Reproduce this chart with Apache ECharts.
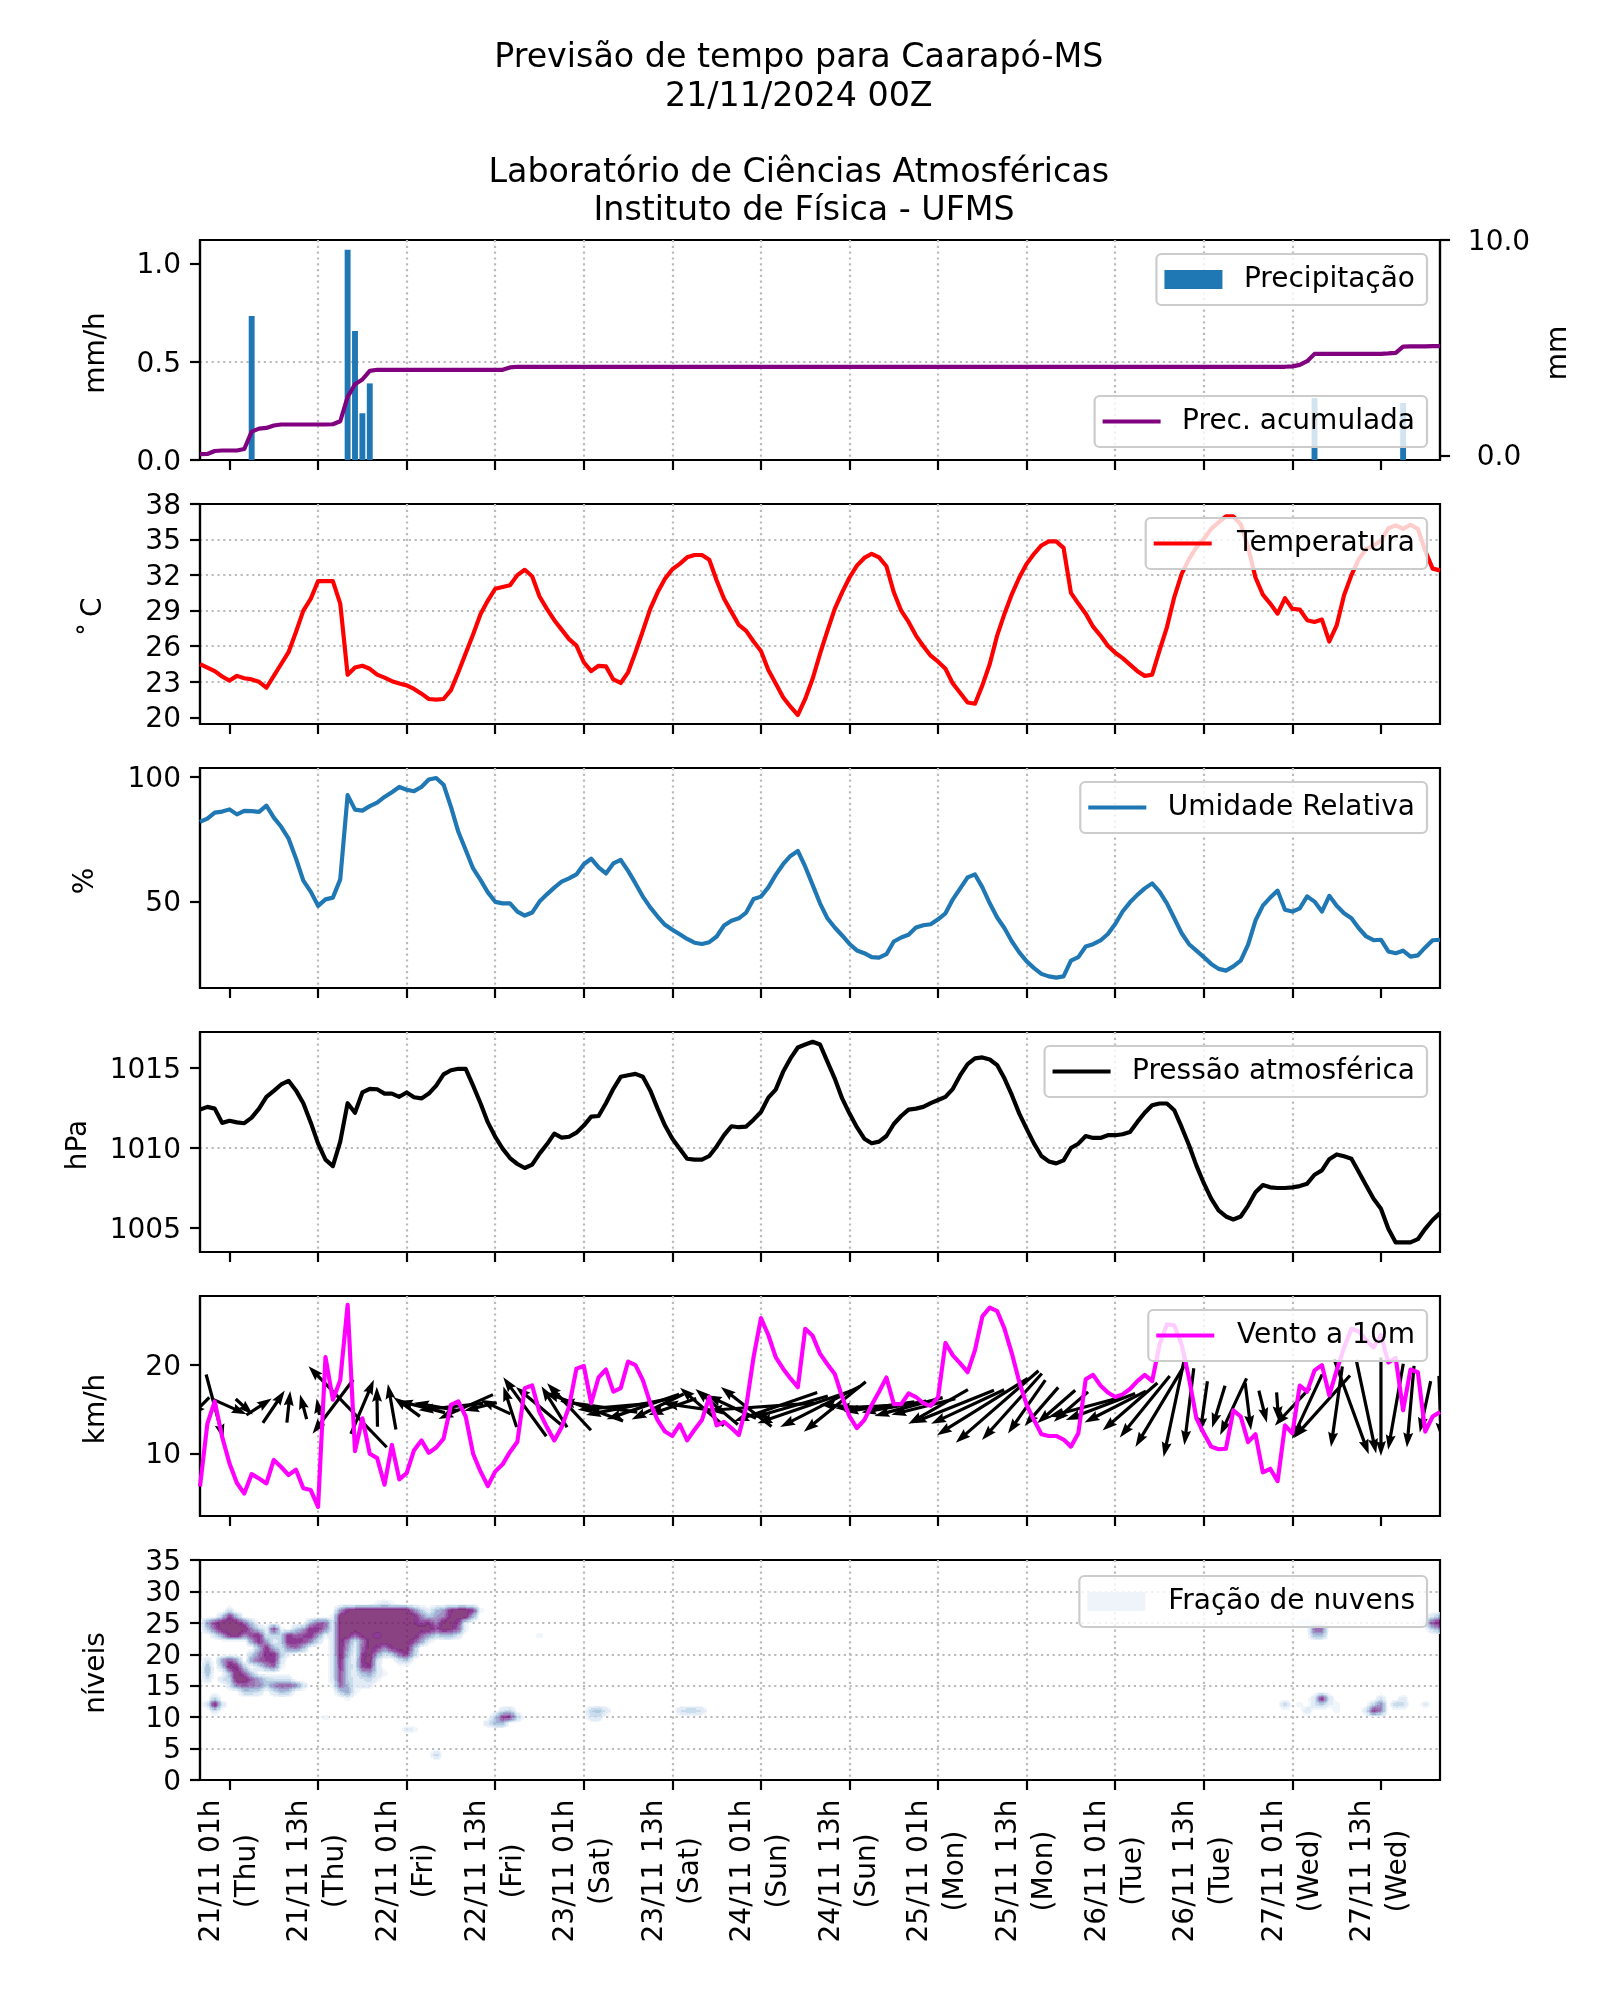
<!DOCTYPE html>
<html><head><meta charset="utf-8">
<style>html,body{margin:0;padding:0;background:#fff}#c{width:1600px;height:2000px}</style>
<script src="https://cdn.jsdelivr.net/npm/echarts@6/dist/echarts.min.js"></script>
</head><body><div id="c"></div>
<script>
const titleText = "Previsão de tempo para Caarapó-MS\n21/11/2024 00Z\n\nLaboratório de Ciências Atmosféricas\n Instituto de Física - UFMS";
const tickHours = [4,16,28,40,52,64,76,88,100,112,124,136,148,160];
const tickLabels = ["21/11 01h\n(Thu)","21/11 13h\n(Thu)","22/11 01h\n(Fri)","22/11 13h\n(Fri)","23/11 01h\n(Sat)","23/11 13h\n(Sat)","24/11 01h\n(Sun)","24/11 13h\n(Sun)","25/11 01h\n(Mon)","25/11 13h\n(Mon)","26/11 01h\n(Tue)","26/11 13h\n(Tue)","27/11 01h\n(Wed)","27/11 13h\n(Wed)"];

const precipHours = [7,20,21,22,23,151,163];
const precipRate = [0.733,1.07,0.657,0.238,0.39,0.316,0.29];
const precipAccum = [0.05,0.06,0.2,0.22,0.22,0.22,0.29,1.1,1.24,1.27,1.38,1.43,1.43,1.43,1.43,1.43,1.43,1.43,1.44,1.58,2.71,3.3,3.52,3.92,
3.97,3.97,3.97,3.97,3.97,3.97,3.97,3.97,3.97,3.97,3.97,3.97,3.97,3.97,3.97,3.97,3.97,3.97,4.08,
4.11,4.11,4.11,4.11,4.11,4.11,4.11,4.11,4.11,4.11,4.11,4.11,4.11,4.11,4.11,
4.11,4.11,4.11,4.11,4.11,4.11,4.11,4.11,4.11,4.11,4.11,4.11,4.11,4.11,4.11,
4.11,4.11,4.11,4.11,4.11,4.11,4.11,4.11,4.11,4.11,4.11,4.11,4.11,4.11,4.11,
4.11,4.11,4.11,4.11,4.11,4.11,4.11,4.11,4.11,4.11,4.11,4.11,4.11,4.11,4.11,
4.11,4.11,4.11,4.11,4.11,4.11,4.11,4.11,4.11,4.11,4.11,4.11,4.11,4.11,4.11,
4.11,4.11,4.11,4.11,4.11,4.11,4.11,4.11,4.11,4.11,4.11,4.11,4.11,4.11,4.11,
4.11,4.11,4.11,4.11,4.11,4.11,4.11,4.11,4.11,4.11,4.11,4.11,4.11,4.11,4.11,
4.13,4.2,4.37,4.71,4.71,4.71,4.71,4.71,4.71,4.71,4.71,4.71,4.71,4.73,4.76,5.05,5.06,5.06,5.06,5.07,5.07];

const temperature = [24.5,24.2,23.9,23.45,23.1,23.5,23.3,23.2,23.0,22.5,23.5,24.5,25.5,27.2,29.0,30,31.5,31.5,31.5,29.6,23.6,24.2,24.35,24.1,23.6,23.35,23.05,22.85,22.7,22.4,22.0,21.55,21.5,21.55,22.3,23.8,25.4,27,28.7,29.85,30.85,31,31.15,32,32.45,31.9,30.2,29.15,28.2,27.4,26.6,26.05,24.65,23.9,24.35,24.3,23.2,22.9,23.8,25.5,27.3,29.15,30.55,31.7,32.5,32.95,33.5,33.7,33.7,33.3,31.55,30,28.9,27.8,27.3,26.4,25.6,24,22.85,21.7,20.9,20.2,21.55,23.25,25.35,27.3,29.15,30.55,31.8,32.8,33.45,33.8,33.5,32.75,30.55,29,28.05,26.9,26,25.2,24.7,24.1,22.85,22.05,21.25,21.15,22.7,24.5,26.9,28.75,30.4,31.8,32.95,33.8,34.5,34.85,34.85,34.3,30.5,29.6,28.75,27.65,26.9,26.05,25.45,25,24.45,23.9,23.5,23.6,25.65,27.6,30.15,32.1,33.35,34.35,35.05,35.9,36.45,36.95,36.95,36.3,34.35,31.8,30.35,29.6,28.75,30.05,29.15,29.1,28.2,28.05,28.25,26.4,27.75,30.3,32,33.35,34.2,34.5,34.9,35.95,36.2,35.9,36.25,35.9,34.05,32.55,32.4];

const humidity = [82,83.3,85.7,86.1,87,85,86.4,86.3,86,88.5,83.7,80,75.3,67.3,58.4,54,48.3,50.9,51.6,58.9,92.7,86.9,86.5,88.3,89.7,92,93.9,96,94.9,94.3,96,99,99.6,96.9,88,78,70.7,63.3,58.7,53.7,49.9,49.3,49.3,46,44.4,45.6,50,52.9,55.6,58,59.3,60.9,65,67.2,63.7,61.3,65.3,66.7,62.3,57.3,52,47.7,44,40.7,38.7,36.9,35,33.5,33,33.7,36,40.4,42.3,43.3,45.6,51,52,55.7,60.7,65,68.3,70.3,64,56.7,49.3,43.3,39.6,36.4,33,30.4,29.3,27.7,27.5,28.9,34,35.6,36.7,39.6,40.5,40.9,42.9,45.3,50.9,55.3,59.7,60.9,55.7,49.3,43.6,39.3,34,29.6,26,23.3,21,20,19.5,20,26.3,27.7,32,32.9,34.4,37,41,46,49.7,52.7,55.3,57.3,54,49.3,43.3,37.3,32.9,30.3,27.7,25,23,22.3,24,26.3,32.7,42.4,48.4,51.6,54.4,46.7,46,47.3,52.1,50,46,52.3,48.3,45.3,43.3,39.3,36,34.5,34.7,30,29.3,30.3,27.9,28.4,31.6,34.5,34.7];

const pressure = [1012.4,1012.57,1012.46,1011.57,1011.7,1011.6,1011.55,1011.9,1012.46,1013.2,1013.57,1013.97,1014.2,1013.6,1012.8,1011.6,1010.27,1009.27,1008.87,1010.4,1012.8,1012.2,1013.47,1013.7,1013.67,1013.4,1013.4,1013.2,1013.47,1013.17,1013.1,1013.4,1013.9,1014.6,1014.86,1014.95,1014.95,1013.9,1012.8,1011.6,1010.7,1009.96,1009.37,1009,1008.75,1008.96,1009.65,1010.23,1010.9,1010.65,1010.7,1010.96,1011.4,1011.96,1012,1012.8,1013.7,1014.45,1014.55,1014.63,1014.45,1013.6,1012.46,1011.4,1010.58,1009.96,1009.33,1009.27,1009.27,1009.5,1010.1,1010.8,1011.36,1011.3,1011.34,1011.77,1012.25,1013.15,1013.65,1014.76,1015.6,1016.28,1016.47,1016.64,1016.47,1015.4,1014.34,1013.1,1012.15,1011.3,1010.58,1010.3,1010.4,1010.75,1011.5,1012,1012.4,1012.46,1012.57,1012.8,1013,1013.2,1013.7,1014.55,1015.24,1015.6,1015.66,1015.53,1015.18,1014.34,1013.3,1012.15,1011.2,1010.27,1009.5,1009.16,1009.04,1009.23,1010,1010.27,1010.75,1010.63,1010.63,1010.8,1010.8,1010.86,1011,1011.63,1012.2,1012.67,1012.78,1012.78,1012.36,1011.3,1010.17,1008.9,1007.8,1006.83,1006.1,1005.72,1005.53,1005.72,1006.4,1007.24,1007.68,1007.54,1007.5,1007.5,1007.54,1007.62,1007.77,1008.33,1008.6,1009.3,1009.6,1009.48,1009.33,1008.5,1007.66,1006.83,1006.2,1004.95,1004.1,1004.1,1004.1,1004.3,1004.95,1005.5,1005.93];

const windSpeed = [6.3,13.4,15.9,11.9,8.9,6.7,5.5,7.7,7.2,6.65,9.3,8.5,7.6,8.2,6.1,5.9,4,20.9,16.1,18.3,26.8,10.3,14,10,9.5,6.5,11,7.1,7.8,10.4,11.5,10.1,10.7,11.7,15.5,15.9,14.2,10,8,6.35,8,8.8,10.2,11.35,17.4,17.7,14.7,13,11.5,13,15.3,19.6,19.9,15.7,18.6,19.5,17,17.4,20.4,20,18.3,15.7,13.8,12.5,12,13.3,11.5,12.7,13.8,16.4,13.2,13.6,12.9,12.1,15.3,20.9,25.3,23.4,20.9,19.6,18.5,17.5,24.1,23.3,21.3,20.1,19,16.4,14.2,12.9,13.8,15.5,17,18.6,15.6,15.6,16.8,16.4,15.7,15.4,16.4,22.5,21.1,20.2,19.2,21.7,25.5,26.5,26.1,24.1,21.3,18.1,15.5,13.8,12.2,12,12,11.6,10.8,12.3,18.4,18.9,17.7,16.9,16.4,16.7,17.3,18.2,18.9,18.2,22.3,24.6,24.5,22.3,18.5,14,12.3,10.8,10.5,10.56,14.9,14.2,11.3,12.2,7.9,8.3,6.9,13.2,12.3,17.7,17,19.4,20,16.6,19.4,22,24.1,23.8,22.8,22,23.4,20.3,20.8,14.9,19.5,19.2,12.5,14.2,14.7];

// Direction each wind arrow points, degrees counter-clockwise from east, one arrow every second hour
const windDir = [225,285,336,318,33,56,84,105,100,233,134,67,91,100,144,166,170,186,204,194,155,108,126,140,122,133,160,172,185,191,199,206,199,172,139,140,155,142,184,199,196,199,207,219,175,183,188,190,195,194,210,202,205,212,221,228,235,229,221,221,195,201,207,221,231,239,258,263,262,253,245,277,284,274,227,245,228,262,290,282,270,260,265,258,272];
const windArrowLevel = 15.3;

// Cloud fraction rows: level, first hour, then one value per hour
const cloudRows = [
[28,24,.1,.2,.1],
[27,4,.2],[27,19,.5,.9,1,1,1,1,1,1,1,1,.6,.3,.1,.4,.5,.9,1,1,.85,.1],
[26,3,.3,.9,.4],[26,18,.1,1,1,1,1,1,1,1,1,1,1,1,.6,.35,.5,.6,.95,1,1,.4],
[25,1,.5,.85,1,1,1,.7,.3],[25,15,.4,.7,.7,.15,1,1,1,1,1,1,1,1,1,1,.9,.8,.9,.6,1,1,.8,.1],
[24,1,.3,.7,1,1,1,1,.6,.3,.1,.9,.1,0,.3,.5,.9,.9,.6,.15,1,1,1,1,1,1,1,1,1,1,1,1,1,.8,1,.95,.7,.1],
[23,2,.2,.5,.9,1,.6,.8,.9,.2,.3,.3,.9,.7,.8,.9,.5,.1,.15,1,1,.7,.95,1,.8,1,1,1,1,1,.7,.5,.3,.4,.4,.2],
[23,46,.1],
[22,7,.5,.9,.5,.1,.3,.9,.9,.8,.6,.2,0,.15,1,.6,.15,.6,1,1,1,1,1,1,.8,.5,.1],
[21,8,.4,.9,.4,.2,.6,.7,.4,0,0,0,.15,1,.5,.1,.7,1,.85,.6,.9,1,1,.4],
[20,7,.3,.6,.9,.9,.3,.1,0,0,0,0,0,.15,1,.4,.05,.8,1,.5,.2,.3,.7,.85,.3],
[19,1,.2],[19,3,.5,.8,.5,0,.5,.7,.8,.9,.2],[19,18,.15,.95,.3,.1,.9,1,.2,0,0,.2,.3],
[18,1,.4],[18,3,.3,1,.9,.3,0,.2,.5,.7,.1],[18,18,.15,.9,.3,.15,.8,.9,.2],
[17,1,.4],[17,4,.4,1,.7,.3],[17,18,.15,.8,.3,.1,.4,.5,.2,.1],
[16,1,.2],[16,3,.2,.3,1,1,.7,.5,.3,.2,.2,.2],[16,18,.15,.8,.3,.15,.2,.25,.1],
[15,4,.2,.6,.7,.6,.6,.3,.6,.7,.7,.6,.2],[15,18,.1,.7,.4,.1,.15,.15],
[14,6,.3,.3,.2,0,.2,.4,.3],[14,19,.3,.5,.1],
[13,2,.3],[13,20,.1],
[12,1,.2,1,.2],[11,2,.2],
[10,17,.1],[8,28,.15,.1],[4,32,.3],
[11,41,.2,.3],[10,40,.3,.85,.9,.3],[9,39,.2,.4,.4],
[11,53,.3,.4,.2],[10,53,.2,.2],[11,65,.2,.3,.3,.2],
[12,147,.3],[25,149,.15,.2,.1],[24,151,.7,.7],[23,151,.4,.4],
[13,151,.2,.95,.2],[12,151,.2,.3,.1],[11,150,.2],[12,149,.1],[11,154,.1],[12,154,.1],
[11,158,.2,.9,.6],[12,159,.3,.6],[13,160,.2],
[12,162,.3,.25],[13,163,.15],[12,166,.15],
[25,165,.1,.3,.8,1],[24,167,.3,.5],[26,167,.2,.4]
];
const cloudLevels = [.05,.1,.2,.3,.4,.5,.6,.7,.8,.9,.93];
const cloudColors = ['#edf4fa','#dce7f4','#bcd3e7','#9cbad8','#8c9ac9','#8a74b5','#8351a0','#7b2b8c','#6f0979','#5d005d','#6d1363'];

const HOURS = 169, LEVELS = 36;
const cloudGrid = [];
for (let k = 0; k < LEVELS; k++) cloudGrid.push(new Array(HOURS).fill(0));
cloudRows.forEach(r => { for (let j = 2; j < r.length; j++) cloudGrid[r[0]][r[1] + j - 2] = Math.max(cloudGrid[r[0]][r[1] + j - 2], r[j]); });
const cloudCells = [];
for (let k = 0; k < LEVELS - 1; k++) for (let i = 0; i < HOURS - 1; i++) {
  if (cloudGrid[k][i] || cloudGrid[k][i+1] || cloudGrid[k+1][i] || cloudGrid[k+1][i+1]) cloudCells.push([i, k]);
}
function cloudColor(v) { let c = null; for (let n = 0; n < cloudLevels.length; n++) if (v >= cloudLevels[n]) c = cloudColors[n]; return c; }

const tops = [240,504,768,1032,1296,1560], H = 220;
const FS = 28, BLACK = '#000';
const font = 'DejaVu Sans';
const gridLine = {show:true, showMinLine:false, showMaxLine:false, lineStyle:{color:'#bbbbbb', width:2.2, type:[2.2,3.6]}};
const tickRich = {a:{fontSize:FS, fontFamily:font, color:BLACK, padding:[5,0,0,0]}};
const grids = tops.map(t => ({left:200, width:1240, top:t, height:H, show:true, borderColor:BLACK, borderWidth:2.2, backgroundColor:'#fff'}));
const xAxes = tops.map((t, n) => ({
  type:'value', gridIndex:n, min:0, max:168, position:'bottom',
  axisLine:{show:true, onZero:false, lineStyle:{color:BLACK, width:2.2}},
  axisTick:{show:true, length:10, customValues:tickHours, lineStyle:{color:BLACK, width:2.2}},
  splitLine:gridLine,
  axisLabel: n === 5 ? {show:true, customValues:tickHours, rotate:90, align:'center', verticalAlign:'middle', margin:91, padding:[2.6,0,0,0], fontSize:FS, fontFamily:font, color:BLACK, lineHeight:36, hideOverlap:false,
      formatter:v => tickLabels[tickHours.indexOf(v)] || ''} : {show:false}
}));
function yAxis(n, min, max, ticks, name, gap, fmt) {
  const f = fmt || (v => String(v));
  return {type:'value', gridIndex:n, min, max, position:'left', name, nameLocation:'middle', nameGap:gap, nameRotate:90,
    nameTextStyle:{fontSize:FS, fontFamily:font, color:BLACK, padding:[0,6,0,0]},
    axisLine:{show:true, onZero:false, lineStyle:{color:BLACK, width:2.2}},
    axisTick:{show:true, length:10, customValues:ticks, lineStyle:{color:BLACK, width:2.2}},
    splitLine:gridLine,
    axisLabel:{customValues:ticks, fontSize:FS, fontFamily:font, color:BLACK, margin:19, rich:tickRich, formatter:v => '{a|' + f(v) + '}'}};
}
const yAxes = [
  yAxis(0, 0, 1.12, [0,.5,1], 'mm/h', 89.5, v => v.toFixed(1)),
  yAxis(1, 19.44, 38, [20,23,26,29,32,35,38], '˚\u2009C', 92),
  yAxis(2, 15.33, 103.6, [50,100], '%', 100.5),
  yAxis(3, 1003.5, 1017.25, [1005,1010,1015], 'hPa', 107.5),
  yAxis(4, 2.97, 27.8, [10,20], 'km/h', 89.5),
  yAxis(5, 0, 35, [0,5,10,15,20,25,30,35], 'níveis', 89.5),
  {type:'value', gridIndex:0, min:-.22, max:10, position:'right', name:'mm', nameLocation:'middle', nameGap:104.5, nameRotate:90,
    nameTextStyle:{fontSize:FS, fontFamily:font, color:BLACK, padding:[0,6,0,0]},
    axisLine:{show:true, onZero:false, lineStyle:{color:BLACK, width:2.2}},
    axisTick:{show:true, length:10, customValues:[0,10], lineStyle:{color:BLACK, width:2.2}},
    splitLine:{show:false},
    axisLabel:{customValues:[0,10], align:'center', margin:59, rich:tickRich, fontSize:FS, fontFamily:font, color:BLACK, formatter:v => '{a|' + v.toFixed(1) + '}'}}
];
const pairs = a => a.map((v, i) => [i, v]);
const lineSeries = (name, color, data, g, y, z) => ({name, type:'line', xAxisIndex:g, yAxisIndex:y, data:pairs(data), symbol:'none', showSymbol:false, z:z||3,
  lineStyle:{color, width:4.17, join:'round'}, itemStyle:{color}, silent:true});

function arrowItem(params, api) {
  const c = api.coord([api.value(0), api.value(1)]);
  const L = api.value(2) * 4.2, a = api.value(3) * Math.PI / 180;
  const ux = Math.cos(a), uy = -Math.sin(a), px = -uy, py = ux, w = 1.6, hw = 5, hl = 15, ha = 13.5;
  const pt = (along, side) => [c[0] + ux * (along - L / 2) + px * side, c[1] + uy * (along - L / 2) + py * side];
  const hLen = Math.min(hl, L), aLen = hLen * ha / hl;
  return {type:'polygon', shape:{points:[pt(0,-w), pt(L-aLen,-w), pt(L-hLen,-hw), pt(L,0), pt(L-hLen,hw), pt(L-aLen,w), pt(0,w)]}, style:{fill:BLACK}};
}
function cloudItem(params, api) {
  const i = api.value(0), k = api.value(1);
  const a = cloudGrid[k][i], b = cloudGrid[k][i+1], c = cloudGrid[k+1][i], d = cloudGrid[k+1][i+1];
  const p0 = api.coord([i, k]), p1 = api.coord([i+1, k+1]);
  const nx = 6, ny = 5, children = [];
  for (let r = 0; r < ny; r++) {
    const y0 = Math.round(p0[1] + (p1[1]-p0[1]) * r / ny), y1 = Math.round(p0[1] + (p1[1]-p0[1]) * (r+1) / ny);
    const ty = (r + .5) / ny;
    let runCol = null, runStart = 0;
    for (let s = 0; s <= nx; s++) {
      let col = null;
      if (s < nx) {
        const tx = (s + .5) / nx;
        const v = (a*(1-tx) + b*tx) * (1-ty) + (c*(1-tx) + d*tx) * ty;
        col = cloudColor(v);
      }
      if (col !== runCol || s === nx) {
        if (runCol) {
          const x0 = Math.round(p0[0] + (p1[0]-p0[0]) * runStart / nx), x1 = Math.round(p0[0] + (p1[0]-p0[0]) * s / nx);
          children.push({type:'rect', shape:{x:x0, y:Math.min(y0,y1), width:x1-x0, height:Math.abs(y1-y0)}, style:{fill:runCol, opacity:.8}});
        }
        runCol = col; runStart = s;
      }
    }
  }
  return {type:'group', children};
}

const series = [
  {name:'Precipitação', type:'bar', xAxisIndex:0, yAxisIndex:0, barWidth:5.9, z:2, silent:true, itemStyle:{color:'#1f77b4'},
    data:precipHours.map((h, n) => [h, precipRate[n]])},
  lineSeries('Prec. acumulada', '#800080', precipAccum, 0, 6),
  lineSeries('Temperatura', '#ff0000', temperature, 1, 1),
  lineSeries('Umidade Relativa', '#1f77b4', humidity, 2, 2),
  lineSeries('Pressão atmosférica', '#000000', pressure, 3, 3),
  {name:'arrows', type:'custom', xAxisIndex:4, yAxisIndex:4, clip:true, silent:true, z:2, renderItem:arrowItem,
    data:windDir.map((d, n) => [n*2, windArrowLevel, windSpeed[n*2], d])},
  lineSeries('Vento a 10m', '#ff00ff', windSpeed, 4, 4),
  {name:'Fração de nuvens', type:'custom', xAxisIndex:5, yAxisIndex:5, clip:true, silent:true, z:2, renderItem:cloudItem, itemStyle:{color:'#eef4fa'}, data:cloudCells}
];
const legend = (name, top, isLine, gap) => ({data:[{name, icon:'rect'}], right:173, top, orient:'horizontal', selectedMode:false, itemWidth:58, itemHeight:isLine ? 4.2 : 19,
  padding:[11,12,11,8], backgroundColor:'rgba(255,255,255,0.8)', borderColor:'#cccccc', borderWidth:2.2, borderRadius:5, z:10,
  textStyle:{fontSize:FS, fontFamily:font, color:BLACK, padding:[0,0,0,gap], lineHeight:29}});
const option = {
  animation:false, backgroundColor:'#fff',
  title:{text:titleText, left:793.8, top:34.5, textAlign:'center', textStyle:{fontSize:33.3, fontWeight:'normal', fontFamily:font, color:BLACK, lineHeight:38.3, align:'center'}},
  grid:grids, xAxis:xAxes, yAxis:yAxes, series,
  legend:[legend('Precipitação',254,false,16.5),legend('Prec. acumulada',396,true,16.5),legend('Temperatura',518,true,20.4),legend('Umidade Relativa',782,true,16.5),legend('Pressão atmosférica',1046,true,16.5),legend('Vento a 10m',1310,true,17.8),legend('Fração de nuvens',1576,false,17.8)]
};
const chart = echarts.init(document.getElementById('c'), null, {renderer:'canvas', width:1600, height:2000});
chart.setOption(option);
</script></body></html>
